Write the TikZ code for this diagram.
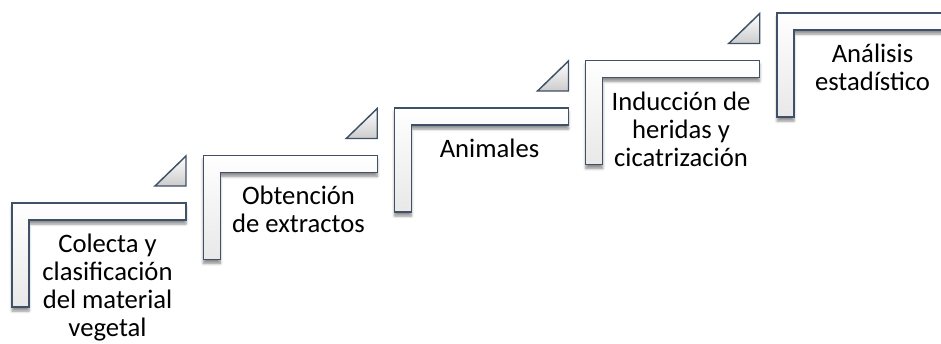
\documentclass[tikz,border=0pt]{standalone}
\usepackage{fontspec}
\setmainfont{Carlito}
\usetikzlibrary{shadows.blur}
\definecolor{slate}{RGB}{64,80,102}
\tikzset{
  stepshape/.style={draw=slate, line width=1.1pt, top color=white, bottom color=black!9,
    blur shadow={shadow xshift=0pt, shadow yshift=-3pt, shadow blur steps=6, shadow opacity=45}},
  tri/.style={draw=slate, line width=1.1pt, shading=axis, shading angle=45, top color=white, bottom color=black!20},
  lbl/.style={font=\fontsize{20}{21}\selectfont, align=center, anchor=base, inner sep=0pt, text=black}
}
\begin{document}
\begin{tikzpicture}[x=0.75pt,y=-0.75pt]
\useasboundingbox (0,0) rectangle (941,343);
\clip (0,0) rectangle (941,343);
\foreach \i in {0,...,4}{
  \pgfmathsetmacro\L{12+191.25*\i}
  \pgfmathsetmacro\T{203-47.5*\i}
  \path[stepshape] (\L,\T) -- ++(174,0) -- ++(0,17) -- ++(-157,0) -- ++(0,87) -- ++(-17,0) -- cycle;
}
\foreach \i in {0,...,3}{
  \pgfmathsetmacro\L{12+191.25*\i}
  \pgfmathsetmacro\T{203-47.5*\i}
  \path[tri] (\L+143,\T-17) -- (\L+174,\T-17) -- (\L+174,\T-47) -- cycle;
}
\node[lbl] (t1) at (107.5,336) {Colecta y\\clasificación\\del material\\vegetal};
\node[lbl] (t2) at (298.5,232) {Obtención\\de extractos};
\node[lbl] (t3) at (489.5,157) {Animales};
\node[lbl] (t4) at (681,166) {Inducción de\\heridas y\\cicatrización};
\node[lbl] (t5) at (872.5,90) {Análisis\\estadístico};
\end{tikzpicture}
\end{document}
